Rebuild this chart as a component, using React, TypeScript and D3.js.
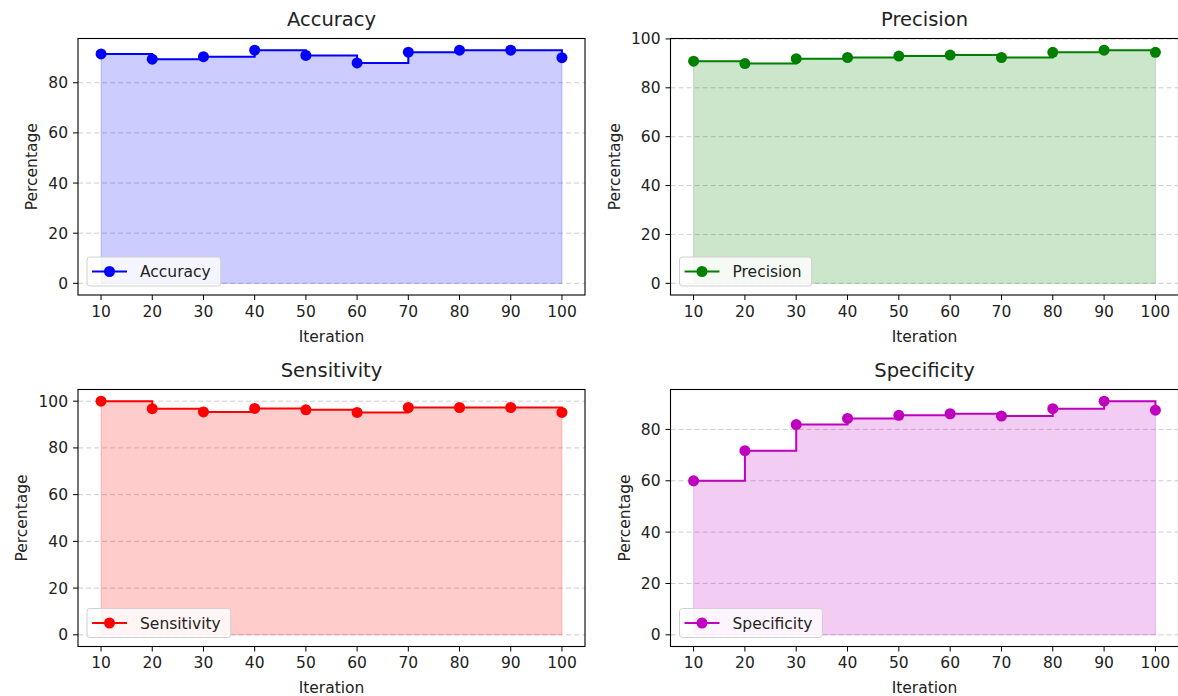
import React from "react";
import * as d3 from "d3";

// values
const iterations = [10, 20, 30, 40, 50, 60, 70, 80, 90, 100];
const accuracy = [91.5, 89.4, 90.4, 93.0, 90.9, 87.9, 92.2, 93.0, 93.0, 90.0];
const precision = [90.9, 89.9, 91.9, 92.4, 93.0, 93.4, 92.4, 94.5, 95.4, 94.5];
const sensitivity = [100.0, 96.8, 95.4, 96.9, 96.3, 95.2, 97.3, 97.3, 97.3, 95.2];
const specificity = [60.0, 71.7, 81.9, 84.3, 85.5, 86.1, 85.2, 88.1, 91.0, 87.5];
const xTicks = [10, 20, 30, 40, 50, 60, 70, 80, 90, 100];
const yTicks = [0, 20, 40, 60, 80, 100];

const FONT = "DejaVu Sans";
const TICK_FS = 15.5;
const TITLE_FS = 19.5;

const textWidth = (s: string, fs: number) => {
  const ctx = document.createElement("canvas").getContext("2d");
  if (!ctx) return s.length * fs * 0.6;
  ctx.font = `${fs}px "${FONT}"`;
  return ctx.measureText(s).width;
};

type Box = { left: number; right: number; top: number; bottom: number };

function Panel({ title, values, color, box }: { title: string; values: number[]; color: string; box: Box }) {
  const [x0, x1] = d3.extent(iterations) as [number, number];
  const xPad = (x1 - x0) * 0.05;
  const x = d3.scaleLinear().domain([x0 - xPad, x1 + xPad]).range([box.left, box.right]);
  const yMax = d3.max(values) as number;
  const y = d3.scaleLinear().domain([-yMax * 0.05, yMax * 1.05]).range([box.bottom, box.top]);

  const pts = iterations.map((it, i) => [it, values[i]] as [number, number]);
  const line = d3.line<[number, number]>().x((d) => x(d[0])).y((d) => y(d[1])).curve(d3.curveStepAfter);
  const area = d3
    .area<[number, number]>()
    .x((d) => x(d[0]))
    .y0(y(0))
    .y1((d) => y(d[1]))
    .curve(d3.curveStepAfter);

  const [lo, hi] = y.domain();
  const shownY = yTicks.filter((t) => t >= lo && t <= hi);
  const maxLabelW = d3.max(shownY, (t) => textWidth(String(t), TICK_FS)) as number;
  const ylabelX = box.left - 5 - 5 - maxLabelW - 6 - 5;

  const legendW = 53 + textWidth(title, TICK_FS) + 10;
  const legendH = 29;
  const lx = box.left + 9;
  const ly = box.bottom - 9 - legendH;
  const midX = (box.left + box.right) / 2;

  return (
    <g>
      {/* grid */}
      {shownY.map((t) => (
        <line key={"g" + t} x1={box.left} x2={box.right} y1={y(t)} y2={y(t)} stroke="#b0b0b0" strokeOpacity={0.7} strokeDasharray="5,3" strokeWidth={0.9} />
      ))}
      <path d={area(pts) || ""} fill={color} fillOpacity={0.2} stroke={color} strokeOpacity={0.2} strokeWidth={1} />
      <path d={line(pts) || ""} fill="none" stroke={color} strokeWidth={2} />
      {pts.map((d, i) => (
        <circle key={i} cx={x(d[0])} cy={y(d[1])} r={5.5} fill={color} />
      ))}
      <rect x={box.left} y={box.top} width={box.right - box.left} height={box.bottom - box.top} fill="none" stroke="#000" strokeWidth={1.1} />

      {/* x axis */}
      {xTicks.map((t) => (
        <g key={"x" + t}>
          <line x1={x(t)} x2={x(t)} y1={box.bottom} y2={box.bottom + 5} stroke="#000" />
          <text x={x(t)} y={box.bottom + 10 + TICK_FS * 0.76} textAnchor="middle" fontSize={TICK_FS} fontFamily={FONT} fill="#222">
            {t}
          </text>
        </g>
      ))}
      <text x={midX} y={box.bottom + 46.5} textAnchor="middle" fontSize={TICK_FS} fontFamily={FONT} fill="#222">
        Iteration
      </text>

      {/* y axis */}
      {shownY.map((t) => (
        <g key={"y" + t}>
          <line x1={box.left - 5} x2={box.left} y1={y(t)} y2={y(t)} stroke="#000" />
          <text x={box.left - 10} y={y(t)} dy="0.36em" textAnchor="end" fontSize={TICK_FS} fontFamily={FONT} fill="#222">
            {t}
          </text>
        </g>
      ))}
      <text
        transform={`translate(${ylabelX},${(box.top + box.bottom) / 2}) rotate(-90)`}
        textAnchor="middle"
        fontSize={TICK_FS}
        fontFamily={FONT}
        fill="#222"
      >
        Percentage
      </text>

      <text x={midX} y={box.top - 13} textAnchor="middle" fontSize={TITLE_FS} fontFamily={FONT} fill="#222">
        {title}
      </text>

      {/* legend */}
      <rect x={lx} y={ly} width={legendW} height={legendH} rx={3} fill="#fff" fillOpacity={0.8} stroke="#d0d0d0" />
      <line x1={lx + 5} x2={lx + 40} y1={ly + legendH / 2} y2={ly + legendH / 2} stroke={color} strokeWidth={2} />
      <circle cx={lx + 22.5} cy={ly + legendH / 2} r={5.5} fill={color} />
      <text x={lx + 53} y={ly + legendH / 2} dy="0.36em" fontSize={TICK_FS} fontFamily={FONT} fill="#222">
        {title}
      </text>
    </g>
  );
}

export default function App() {
  const leftCol = { left: 78, right: 585 };
  const rightCol = { left: 670.5, right: 1178.5 };
  const topRow = { top: 38.5, bottom: 295 };
  const botRow = { top: 389.5, bottom: 646.5 };
  return (
    <svg width={1178} height={696} style={{ position: "absolute", left: 0, top: 0, background: "#fff" }}>
      <rect width={1178} height={696} fill="#fff" />
      <Panel title="Accuracy" values={accuracy} color="#0000ff" box={{ ...leftCol, ...topRow }} />
      <Panel title="Precision" values={precision} color="#008000" box={{ ...rightCol, ...topRow }} />
      <Panel title="Sensitivity" values={sensitivity} color="#ff0000" box={{ ...leftCol, ...botRow }} />
      <Panel title="Specificity" values={specificity} color="#bf00bf" box={{ ...rightCol, ...botRow }} />
    </svg>
  );
}
